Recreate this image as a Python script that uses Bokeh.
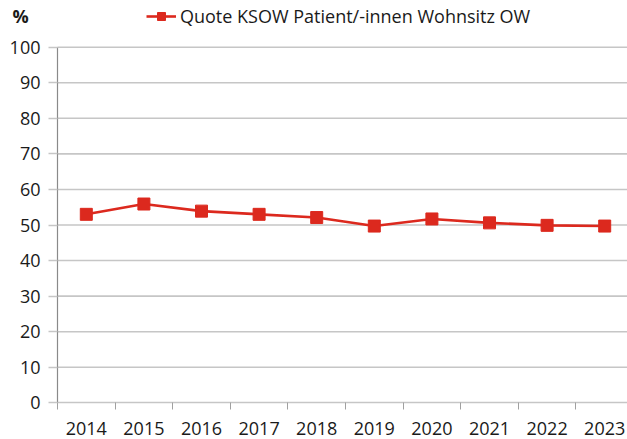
from bokeh.plotting import figure
from bokeh.models import Range1d, FixedTicker, Legend, LegendItem, Label, ColumnDataSource
from bokeh.embed import file_html
from bokeh.resources import INLINE

years = ["2014", "2015", "2016", "2017", "2018", "2019", "2020", "2021", "2022", "2023"]
quote = [53.0, 55.9, 53.9, 53.0, 52.1, 49.7, 51.7, 50.6, 49.9, 49.7]
y_ticks = [0, 10, 20, 30, 40, 50, 60, 70, 80, 90, 100]
series_name = "Quote KSOW Patient/-innen Wohnsitz OW"
unit_label = "%"

FONT = "Open Sans"
RED = "#dc291e"
TXT = "#1a1a1a"
GRID = "#c6c6c6"
AXIS = "#8a8a8a"

W, H = 627, 439
# pixel layout of the plotting area (from the reference)
PX_LEFT, PX_CAT = 57.0, 57.6          # left edge, width of one category
PX_TOP, PX_BOTTOM = 46.7, 402.3       # y=100 and y=0 positions

n = len(years)
ymax = y_ticks[-1]
ppu_y = (PX_BOTTOM - PX_TOP) / ymax
x_range = Range1d(-PX_LEFT / PX_CAT, (W - PX_LEFT) / PX_CAT)
y_range = Range1d(-(H - PX_BOTTOM) / ppu_y, ymax + PX_TOP / ppu_y)

xpos = [i + 0.5 for i in range(n)]
src = ColumnDataSource(data=dict(x=xpos, y=quote))

p = figure(width=W, height=H, output_backend="svg", toolbar_location=None,
           x_range=x_range, y_range=y_range, title=None)
p.min_border_left = 0
p.min_border_right = 0
p.min_border_top = 0
p.min_border_bottom = 0
p.outline_line_color = None
p.background_fill_color = "white"
p.border_fill_color = "white"
p.xgrid.grid_line_color = None
p.ygrid.grid_line_color = None

# horizontal gridlines (10..100), from the tick list
gy = [t for t in y_ticks if t != 0]
p.segment(x0=[0] * len(gy), x1=[n] * len(gy), y0=gy, y1=gy,
          line_color=GRID, line_width=1.6, level="underlay")

line = p.line("x", "y", source=src, line_color=RED, line_width=2.6)
pts = p.scatter("x", "y", source=src, marker="square", size=12,
                fill_color=RED, line_color=RED)

# x axis
xa = p.xaxis[0]
xa.fixed_location = 0
xa.bounds = (0, n)
xa.ticker = FixedTicker(ticks=xpos, minor_ticks=list(range(n + 1)))
xa.major_label_overrides = {x: y for x, y in zip(xpos, years)}
xa.major_tick_out = 0
xa.major_tick_in = 0
xa.minor_tick_out = 7
xa.minor_tick_in = 0
xa.minor_tick_line_color = "#a0a0a0"
xa.axis_line_color = GRID
xa.axis_line_width = 1.6
xa.major_label_text_font = FONT
xa.major_label_text_font_size = "18px"
xa.major_label_text_color = TXT
xa.major_label_standoff = 12

# y axis
ya = p.yaxis[0]
ya.fixed_location = 0
ya.bounds = (0, ymax)
ya.ticker = FixedTicker(ticks=y_ticks)
ya.major_tick_out = 9
ya.major_tick_in = 0
ya.minor_tick_line_color = None
ya.major_tick_line_color = GRID
ya.major_tick_line_width = 1.6
ya.axis_line_color = AXIS
ya.axis_line_width = 1.2
ya.major_label_text_font = FONT
ya.major_label_text_font_size = "18px"
ya.major_label_text_color = TXT
ya.major_label_standoff = 8

legend = Legend(items=[LegendItem(label=series_name, renderers=[line, pts])],
                location=(146, 411), orientation="horizontal",
                label_text_font=FONT, label_text_font_size="18px",
                label_text_color=TXT, glyph_width=30, glyph_height=20,
                label_height=20, label_standoff=4, padding=0, margin=0, spacing=0,
                border_line_color=None, background_fill_alpha=0)
p.add_layout(legend, "center")

pct = Label(x=12, y=H - 15, x_units="screen", y_units="screen", text=unit_label,
            text_baseline="middle", text_font=FONT, text_font_size="18px",
            text_font_style="bold", text_color=TXT)
p.add_layout(pct)

open("out.html", "w").write(file_html(p, INLINE))
